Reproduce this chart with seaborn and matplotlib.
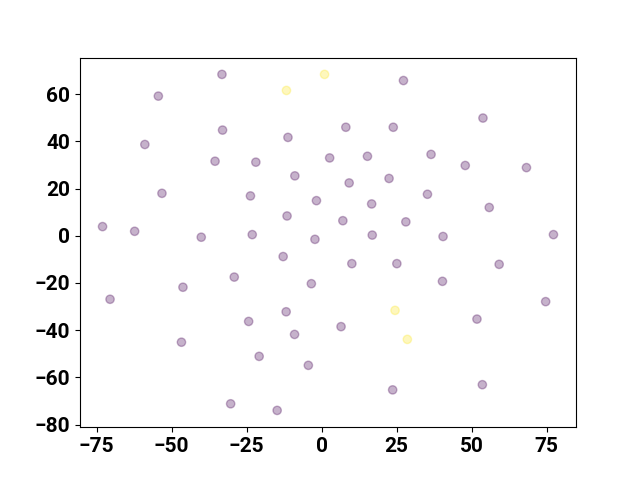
import matplotlib
matplotlib.use("Agg")
import matplotlib.pyplot as plt
from matplotlib.ticker import MultipleLocator
import seaborn as sns
import pandas as pd

# ===================== Data =====================
x_vals = [-73.0, -70.5, -62.3, -58.9, -54.4, -53.2, -46.2, -46.7, -40.1, -35.5,
          -33.0, -33.2, -29.1, -30.3, -24.3, -23.7, -23.1, -21.9, -20.8, -14.8,
          -12.8, -11.5, -11.2, -11.8, -8.9, -9.0, -4.4, -3.4, -2.2, -1.7,
          2.7, 6.5, 7.1, 8.1, 9.2, 10.1, 15.3, 16.7, 16.9, 22.5,
          23.9, 23.7, 25.1, 27.3, 28.1, 36.5, 35.3, 40.5, 40.3, 47.9,
          51.8, 53.8, 53.6, 55.9, 59.2, 68.3, 74.7, 77.3,
          -11.7, 1.0, 24.5, 28.6]
y_vals = [3.9, -26.9, 1.9, 38.7, 59.2, 18.0, -21.8, -45.1, -0.6, 31.6,
          44.8, 68.4, -17.5, -71.2, -36.3, 16.9, 0.5, 31.2, -51.1, -74.0,
          -8.8, 8.4, 41.7, -32.2, 25.4, -41.8, -54.9, -20.3, -1.5, 14.9,
          33.0, -38.5, 6.4, 46.0, 22.4, -11.8, 33.7, 13.5, 0.3, 24.3,
          46.0, -65.3, -11.8, 65.8, 5.9, 34.5, 17.6, -0.3, -19.3, 29.8,
          -35.3, 49.9, -63.1, 12.0, -12.1, 28.9, -27.9, 0.5,
          61.6, 68.4, -31.6, -43.9]
labels = [0] * 58 + [1] * 4

df = pd.DataFrame({"x": x_vals, "y": y_vals, "label": labels})

# ===================== Plot =====================
plt.rcParams['font.family'] = ['Roboto', 'DejaVu Sans']
fig, ax = plt.subplots(figsize=(6.4, 4.8), dpi=100)
sns.scatterplot(data=df, x="x", y="y", hue="label",
                palette={0: "#440154", 1: "#fde725"},
                alpha=0.3, s=36, edgecolor="face", linewidth=1.0,
                legend=False, ax=ax)
ax.set_xlabel("")
ax.set_ylabel("")
ax.xaxis.set_major_locator(MultipleLocator(25))
ax.yaxis.set_major_locator(MultipleLocator(20))
for lbl in ax.get_xticklabels() + ax.get_yticklabels():
    lbl.set_fontsize(15)
    lbl.set_fontweight("bold")

plt.savefig("out.png")
plt.close()
